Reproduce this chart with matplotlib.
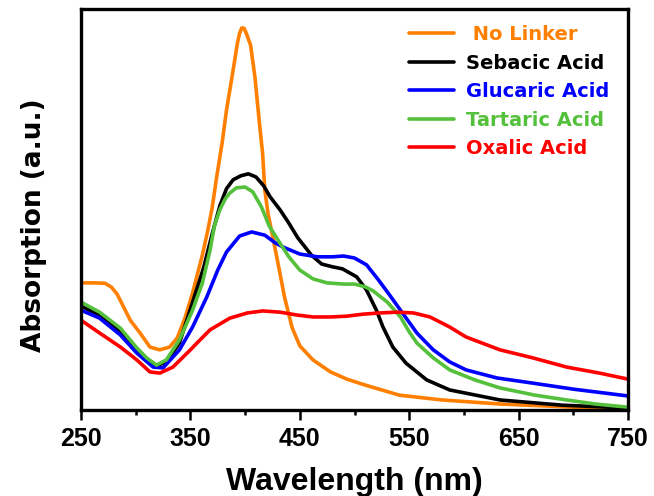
import matplotlib
matplotlib.use("Agg")
import matplotlib.pyplot as plt

plt.rcParams['font.family'] = ['Liberation Sans', 'DejaVu Sans']
plt.rcParams['font.weight'] = 'bold'

# UV-vis spectra, absorption in arbitrary units
wl_none = [250, 262, 272, 278, 283, 288, 295, 304, 313, 322, 331, 338, 345, 352, 361, 366,
           370, 374, 379, 383, 388, 393, 395, 397, 399, 401, 405, 409, 413, 416, 418, 421,
           424, 430, 436, 443, 450, 462, 478, 493, 510, 541, 580, 633, 700, 750]
abs_none = [.317, .317, .316, .306, .289, .262, .224, .192, .157, .150, .157, .180, .229,
            .292, .387, .449, .506, .581, .666, .748, .830, .915, .940, .953, .952, .940,
            .910, .830, .718, .640, .549, .489, .449, .367, .282, .205, .160, .125, .095,
            .077, .062, .037, .025, .015, .007, .005]

wl_sebacic = [250, 267, 286, 301, 310, 319, 328, 340, 352, 362, 370, 377, 383, 389, 396,
              403, 410, 417, 423, 432, 440, 448, 461, 470, 480, 489, 502, 511, 520, 526,
              535, 547, 566, 587, 633, 690, 750]
abs_sebacic = [.259, .237, .195, .150, .127, .110, .120, .167, .269, .354, .440, .510,
               .552, .574, .584, .589, .581, .559, .531, .499, .466, .430, .385, .364,
               .357, .352, .332, .299, .249, .207, .157, .117, .075, .050, .025, .012,
               .005]

wl_glucaric = [250, 267, 286, 301, 316, 325, 340, 352, 365, 375, 383, 395, 406, 418, 428,
               435, 450, 466, 480, 490, 500, 511, 522, 532, 542, 557, 572, 587, 602, 630,
               663, 700, 750]
abs_glucaric = [.249, .229, .187, .142, .107, .105, .150, .207, .282, .349, .394, .434,
                .444, .436, .416, .406, .389, .382, .382, .384, .379, .362, .324, .287,
                .249, .192, .150, .120, .100, .080, .067, .052, .035]

wl_tartaric = [250, 267, 286, 301, 310, 319, 328, 340, 352, 361, 368, 372, 377, 382, 386,
               392, 400, 407, 415, 422, 430, 440, 450, 462, 475, 490, 500, 510, 517, 530,
               542, 550, 557, 572, 587, 610, 633, 665, 694, 720, 750]
abs_tartaric = [.269, .244, .204, .155, .130, .112, .125, .175, .249, .317, .399, .460,
                .500, .527, .541, .554, .556, .544, .506, .459, .424, .382, .349, .327,
                .317, .314, .314, .307, .297, .269, .232, .195, .167, .130, .100, .075,
                .055, .037, .025, .015, .007]

wl_oxalic = [250, 267, 286, 301, 313, 322, 334, 350, 356, 368, 386, 402, 416, 432, 447,
             462, 478, 493, 508, 523, 539, 554, 569, 587, 602, 633, 663, 694, 724, 750]
abs_oxalic = [.224, .192, .157, .125, .095, .092, .107, .150, .167, .200, .229, .242,
              .247, .244, .237, .232, .232, .234, .239, .242, .244, .242, .232, .207,
              .182, .150, .130, .107, .092, .077]

series = [
    (' No Linker', wl_none, abs_none, '#FF8000'),
    ('Sebacic Acid', wl_sebacic, abs_sebacic, '#000000'),
    ('Glucaric Acid', wl_glucaric, abs_glucaric, '#0000FF'),
    ('Tartaric Acid', wl_tartaric, abs_tartaric, '#55C03C'),
    ('Oxalic Acid', wl_oxalic, abs_oxalic, '#FF0000'),
]

major_ticks = [250, 350, 450, 550, 650, 750]
minor_ticks = [300, 400, 500, 600, 700]

fig = plt.figure(figsize=(6.54, 4.96), dpi=100)
ax = fig.add_axes([81 / 654, 86 / 496, 547 / 654, 401 / 496])

for label, x, y, color in series:
    ax.plot(x, y, color=color, linewidth=2.6, label=label,
            solid_joinstyle='round', solid_capstyle='round')

ax.set_xlim(250, 750)
ax.set_ylim(0, 1)
ax.set_xticks(major_ticks)
ax.set_xticks(minor_ticks, minor=True)
ax.set_yticks([])

for spine in ax.spines.values():
    spine.set_linewidth(2.4)

ax.tick_params(axis='x', which='major', direction='out', length=7, width=1.8,
               labelsize=18, pad=5)
ax.tick_params(axis='x', which='minor', direction='out', length=3.6, width=1.8)

ax.set_xlabel('Wavelength (nm)', fontsize=23, fontweight='bold', labelpad=12)
ax.set_ylabel('Absorption (a.u.)', fontsize=19, fontweight='bold',
              family='DejaVu Sans')
ax.yaxis.set_label_coords(-0.063, 0.46)

leg = ax.legend(loc='upper left', bbox_to_anchor=(0.60, 0.96), frameon=False,
                labelcolor='linecolor', handlelength=2.3, handletextpad=0.6,
                labelspacing=0.49, borderpad=0, borderaxespad=0,
                prop={'family': 'DejaVu Sans', 'weight': 'bold', 'size': 14})

fig.savefig('out.png', dpi=100)
